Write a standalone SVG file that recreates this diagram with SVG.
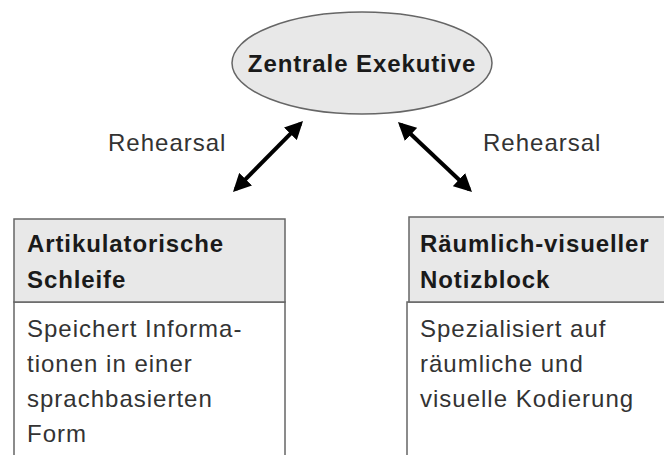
<svg xmlns="http://www.w3.org/2000/svg" width="664" height="455" viewBox="0 0 664 455">
<defs>
<style>
.t{font-family:"Liberation Sans",Arial,sans-serif;font-size:24px;fill:#333;letter-spacing:1px}
.b{font-family:"Liberation Sans",Arial,sans-serif;font-size:24px;font-weight:bold;fill:#1a1a1a;letter-spacing:0.9px}
.box{fill:#fff;stroke:#666;stroke-width:1.5}
.hdr{fill:#e8e8e8;stroke:#666;stroke-width:1.5}
.con{stroke:#000;stroke-width:4;fill:none;marker-start:url(#ah);marker-end:url(#ah)}
</style>
<marker id="ah" viewBox="0 0 10 10" refX="8" refY="5" markerWidth="4.5" markerHeight="4.5" orient="auto-start-reverse" markerUnits="strokeWidth">
<path d="M0,0 L10,5 L0,10 z" fill="#000"/>
</marker>
</defs>
<rect width="664" height="455" fill="#fff"/>
<g id="zentrale-exekutive">
<ellipse cx="362" cy="63" rx="130" ry="51" fill="#e8e8e8" stroke="#666" stroke-width="1.5"/>
<text class="b" x="362" y="72" text-anchor="middle">Zentrale Exekutive</text>
</g>
<g id="artikulatorische-schleife">
<rect class="box" x="14" y="302" width="271" height="170"/>
<rect class="hdr" x="14" y="219" width="271" height="83"/>
<text class="b" x="27" y="252">Artikulatorische</text>
<text class="b" x="27" y="288">Schleife</text>
<text class="t" x="27" y="337">Speichert Informa-</text>
<text class="t" x="27" y="372">tionen in einer</text>
<text class="t" x="27" y="407">sprachbasierten</text>
<text class="t" x="27" y="442">Form</text>
</g>
<g id="raeumlich-visueller-notizblock">
<rect class="box" x="407" y="302" width="270" height="170"/>
<rect class="hdr" x="409" y="217" width="268" height="85"/>
<text class="b" x="420" y="252">Räumlich-visueller</text>
<text class="b" x="420" y="288">Notizblock</text>
<text class="t" x="420" y="337">Spezialisiert auf</text>
<text class="t" x="420" y="372">räumliche und</text>
<text class="t" x="420" y="407">visuelle Kodierung</text>
</g>
<g id="connectors">
<line class="con" x1="300.5" y1="123.6" x2="235.5" y2="189.4"/>
<line class="con" x1="400.6" y1="124.5" x2="469.4" y2="189.5"/>
<text class="t" x="108" y="151">Rehearsal</text>
<text class="t" x="483" y="151">Rehearsal</text>
</g>
</svg>
